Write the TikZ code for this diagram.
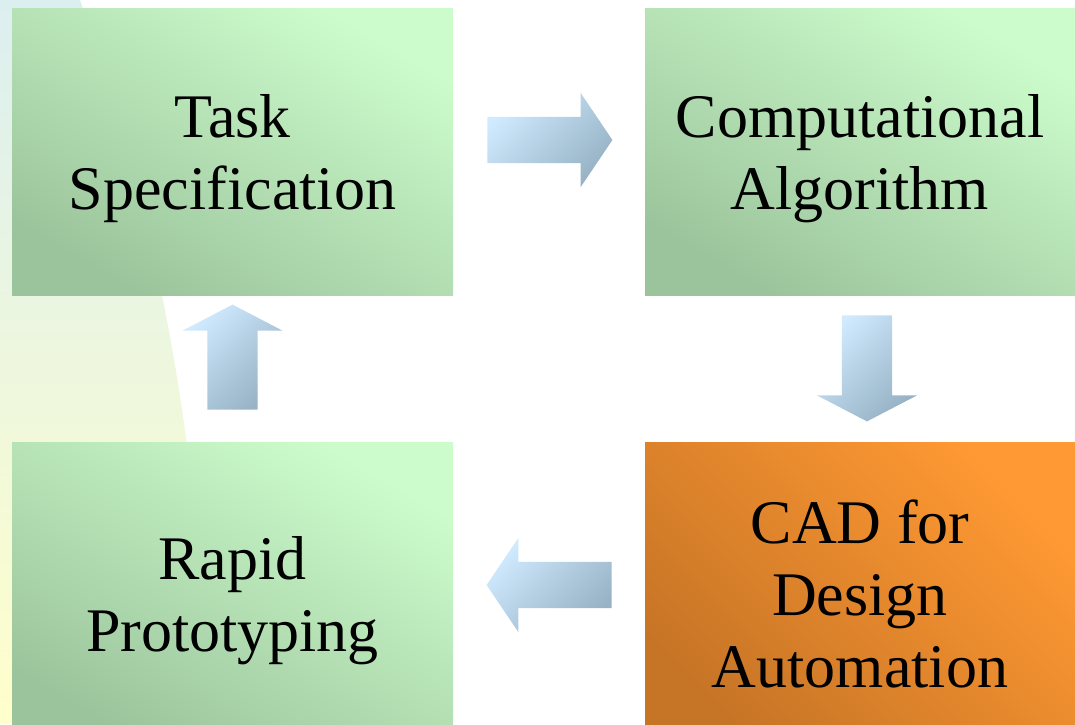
\documentclass[tikz,border=0pt]{standalone}
\usepackage{fontspec}
\setmainfont{Liberation Serif}
\usetikzlibrary{shapes.arrows, calc}
\definecolor{greenlight}{HTML}{CCFCCC}
\definecolor{greendark}{HTML}{9CC49C}
\definecolor{orangelight}{HTML}{FF9933}
\definecolor{orangedark}{HTML}{C67426}
\definecolor{arrowlight}{HTML}{D0EAFF}
\definecolor{arrowdark}{HTML}{96B2C4}
\definecolor{bgtop}{HTML}{DCEFF0}
\definecolor{bgbottom}{HTML}{FFFFCC}
\tikzstyle{stage} = [rectangle, inner sep=0pt, align=center, text depth=0pt, font=\fontsize{62}{72}\selectfont, top color=greenlight, bottom color=greendark, shading angle=-30]
\tikzstyle{focus} = [stage, top color=orangelight, bottom color=orangedark, shading angle=-45]
\tikzstyle{flow} = [single arrow, anchor=tail, inner sep=23pt, single arrow head extend=24pt, single arrow tip angle=112, top color=arrowlight, bottom color=arrowdark, shading angle=45]
\tikzstyle{vflow} = [flow, inner sep=25pt, single arrow head extend=25pt, single arrow tip angle=125]

\begin{document}
\begin{tikzpicture}[x=1pt, y=-1pt]
    \useasboundingbox (0,0) rectangle (1075,724);
    % background swoosh on the left
    \shade[top color=bgtop, bottom color=bgbottom] (0,0) -- (80,0) .. controls (130,140) and (170,300) .. (190,470) -- (190,724) -- (0,724) -- cycle;

    \node (task) [stage, minimum width=441pt, minimum height=287pt] at (232.5,151.5) {Task\\Specification};
    \node (algo) [stage, minimum width=430pt, minimum height=287pt] at (860,151.5) {Computational\\Algorithm};
    \node (cad) [focus, minimum width=430pt, minimum height=304pt] at (860,594) {CAD for\\Design\\Automation};
    \node (rapid) [stage, minimum width=441pt, minimum height=304pt] at (232.5,594) {Rapid\\Prototyping};

    \node (toalgo) [flow, minimum height=125pt] at ($(task.east)+(34,-11.5)$) {};
    \node (tocad) [vflow, minimum height=106pt, shape border rotate=270] at ($(algo.south)+(7,20)$) {};
    \node (torapid) [flow, minimum height=125pt, shape border rotate=180] at ($(cad.west)+(-33,-9)$) {};
    \node (totask) [vflow, minimum height=105pt, shape border rotate=90] at ($(rapid.north)+(0,-32)$) {};
\end{tikzpicture}
\end{document}
